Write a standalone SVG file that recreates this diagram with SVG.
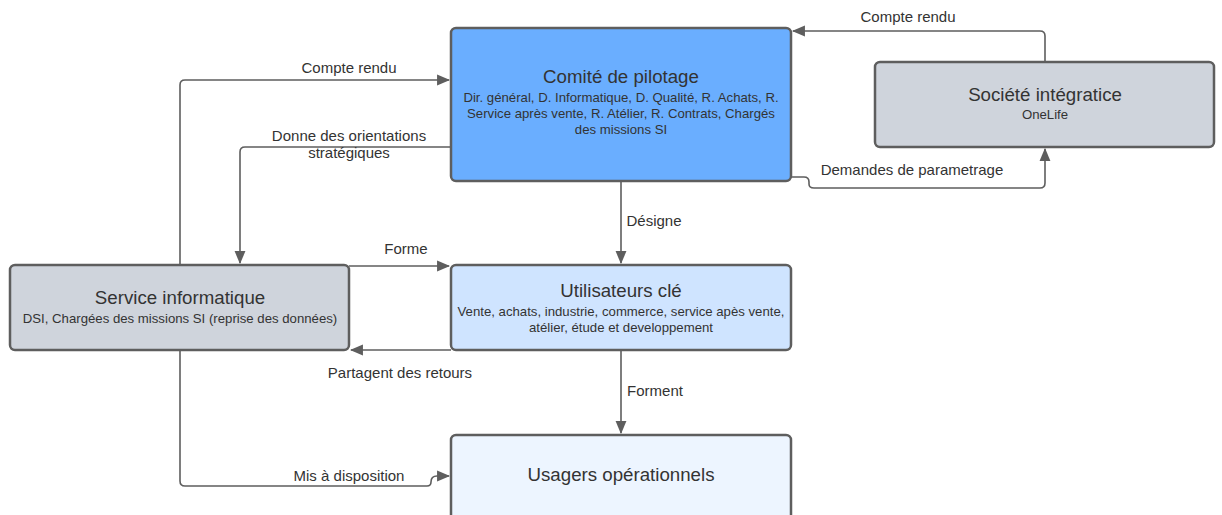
<svg xmlns="http://www.w3.org/2000/svg" width="1222" height="515" viewBox="0 0 1222 515">
<defs>
<marker id="ah" viewBox="0 0 12 12" refX="11" refY="6" markerWidth="13" markerHeight="13" markerUnits="userSpaceOnUse" orient="auto">
<path d="M0,1 L12,6 L0,11 Z" fill="#5e5e5e"/>
</marker>
<style>
.box{stroke:#5e5e5e;stroke-width:2.5}
.t{font-family:"Liberation Sans",Arial,sans-serif;fill:#333;text-anchor:middle}
.h{font-size:18.7px}
.s{font-size:13.2px}
.l{font-family:"Liberation Sans",Arial,sans-serif;fill:#333;font-size:15px;text-anchor:middle}
.c{fill:none;stroke:#5e5e5e;stroke-width:1.6;marker-end:url(#ah)}
</style>
</defs>
<rect width="1222" height="515" fill="#fff"/>
<g id="connectors">
<path class="c" d="M1045,62 V36 Q1045,31 1040,31 H793"/>
<text class="l" x="908" y="22">Compte rendu</text>
<path class="c" d="M791,177 H804 Q809,177 809,182 V184 Q809,188 814,188 H1040 Q1045,188 1045,183 V149"/>
<text class="l" x="912" y="175">Demandes de parametrage</text>
<path class="c" d="M180,265 V85 Q180,80 185,80 H449"/>
<text class="l" x="349" y="73">Compte rendu</text>
<path class="c" d="M451,147 H245 Q240,147 240,152 V263"/>
<text class="l" x="349" y="141">Donne des orientations</text>
<text class="l" x="349" y="158">stratégiques</text>
<path class="c" d="M349,266 H449"/>
<text class="l" x="406" y="254">Forme</text>
<path class="c" d="M451,350 H351"/>
<text class="l" x="400" y="378">Partagent des retours</text>
<path class="c" d="M621,181 V263"/>
<text class="l" x="654" y="226">Désigne</text>
<path class="c" d="M621,350 V433"/>
<text class="l" x="655" y="396">Forment</text>
<path class="c" d="M180,350 V481 Q180,486 185,486 H427 Q431,486 431,482 Q431,476 437,476 H449"/>
<text class="l" x="349" y="481">Mis à disposition</text>
</g>
<g id="comite">
<rect class="box" x="451" y="28" width="340" height="153" rx="5" fill="#6aaeff"/>
<text class="t h" x="621" y="83">Comité de pilotage</text>
<text class="t s" x="621" y="102">Dir. général, D. Informatique, D. Qualité, R. Achats, R.</text>
<text class="t s" x="621" y="118">Service après vente, R. Atélier, R. Contrats, Chargés</text>
<text class="t s" x="621" y="134">des missions SI</text>
</g>
<g id="societe">
<rect class="box" x="875" y="62" width="339" height="85" rx="5" fill="#cfd4dc"/>
<text class="t h" x="1045" y="101">Société intégratice</text>
<text class="t s" x="1045" y="119">OneLife</text>
</g>
<g id="service">
<rect class="box" x="10" y="265" width="339" height="85" rx="5" fill="#cfd4dc"/>
<text class="t h" x="180" y="304">Service informatique</text>
<text class="t s" x="180" y="323">DSI, Chargées des missions SI (reprise des données)</text>
</g>
<g id="utilisateurs">
<rect class="box" x="451" y="265" width="340" height="85" rx="5" fill="#cfe4ff"/>
<text class="t h" x="621" y="297">Utilisateurs clé</text>
<text class="t s" x="621" y="316">Vente, achats, industrie, commerce, service apès vente,</text>
<text class="t s" x="621" y="332">atélier, étude et developpement</text>
</g>
<g id="usagers">
<rect class="box" x="451" y="435" width="340" height="100" rx="5" fill="#edf5ff"/>
<text class="t h" x="621" y="481">Usagers opérationnels</text>
</g>
</svg>
